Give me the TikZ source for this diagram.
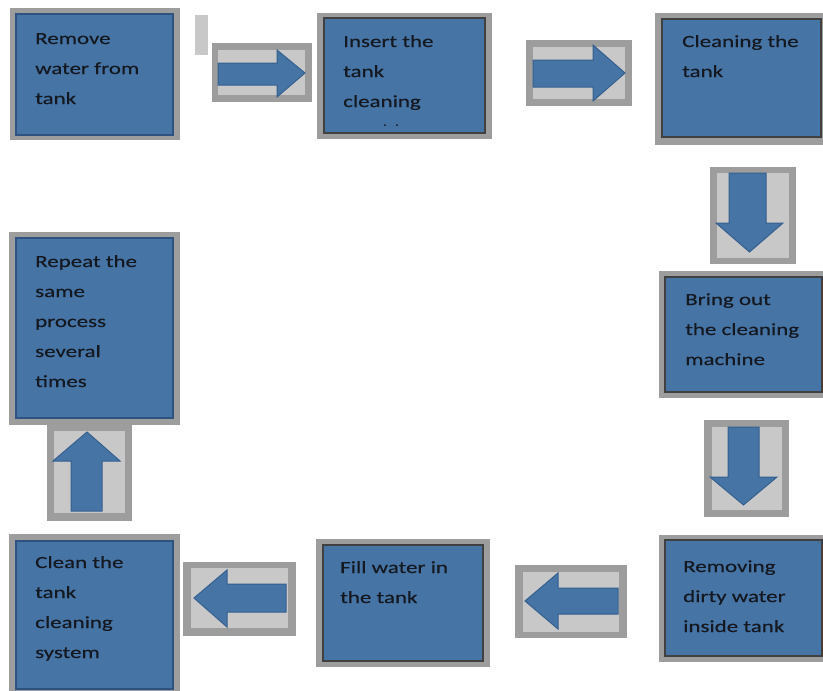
\documentclass[tikz,border=0pt]{standalone}
\usepackage{fontspec}
\setmainfont{Carlito}[FakeStretch=1.35,FakeBold=0.4,AutoFakeBold=0.4]
\definecolor{boxblue}{HTML}{4674A5}
\definecolor{framegray}{HTML}{9D9D9D}
\definecolor{lightgray2}{HTML}{C8C8C8}
\definecolor{darkrim}{HTML}{404040}
\definecolor{bluerim}{HTML}{2E5380}
\definecolor{arrrim}{HTML}{35608F}
\definecolor{txtc}{HTML}{141820}
\tikzset{
  frame/.style={fill=framegray, draw=none},
  inbox/.style={fill=boxblue, draw=darkrim, line width=2.5pt},
  inboxb/.style={fill=boxblue, draw=bluerim, line width=2pt},
  arrbg/.style={fill=lightgray2, draw=none},
  blockarrow/.style={fill=boxblue, draw=arrrim, line width=1pt, line join=miter},
  txt/.style={anchor=base west, inner sep=0pt, text=txtc, font=\fontsize{17}{30}\selectfont\bfseries}
}
\newcommand{\lines}[1]{\begin{tabular}[t]{@{}l@{}}#1\end{tabular}}
\begin{document}
\begin{tikzpicture}[x=1pt,y=-1pt]
\useasboundingbox (0,0) rectangle (823,691);
\fill[white] (0,0) rectangle (823,691);
\clip (0,0) rectangle (823,691);

% ---- process boxes ----
% B1
\fill[frame] (10,8) rectangle (180,140);
\draw[inboxb] (16,14) rectangle (173,135);
\node[txt] (t1) at (35,44) {\lines{Remove\\water from\\tank}};
% B2
\fill[frame] (317,13) rectangle (492,139);
\draw[inbox] (324,18) rectangle (485,133);
\node[txt] (t2) at (343,47) {\lines{Insert the\\tank\\cleaning}};
\fill[txtc] (385,125) circle (1pt);
\fill[txtc] (397,125) circle (1pt);
% B3
\fill[frame] (655,13) rectangle (830,145);
\draw[inbox] (662,19) rectangle (821,137);
\node[txt] (t3) at (682,47) {\lines{Cleaning the\\tank}};
% B4
\fill[frame] (659,271) rectangle (830,398);
\draw[inbox] (665,277) rectangle (822,392);
\node[txt] (t4) at (685,305) {\lines{Bring out\\the cleaning\\machine}};
% B5
\fill[frame] (659,535) rectangle (830,662);
\draw[inbox] (665,540) rectangle (822,656);
\node[txt] (t5) at (683,572) {\lines{Removing\\dirty water\\inside tank}};
% B6
\fill[frame] (316,539) rectangle (490,667);
\draw[inbox] (323,545) rectangle (483,661);
\node[txt] (t6) at (340,573) {\lines{Fill water in\\the tank}};
% B7
\fill[frame] (9,534) rectangle (180,700);
\draw[inboxb] (16,541) rectangle (173,689);
\node[txt] (t7) at (35,568) {\lines{Clean the\\tank\\cleaning\\system}};
% B8
\fill[frame] (9,232) rectangle (180,425);
\draw[inboxb] (16,238) rectangle (173,418);
\node[txt] (t8) at (35,267) {\lines{Repeat the\\same\\process\\several\\times}};

% ---- sliver ----
\fill[lightgray2] (195,15) rectangle (208,55);

% ---- arrow boxes ----
% A1 right
\fill[frame] (212,43) rectangle (312,102);
\fill[arrbg] (218,50) rectangle (305,95);
\draw[blockarrow] (218,63) -- (277,63) -- (277,50) -- (305,73) -- (277,97) -- (277,85) -- (218,85) -- cycle;
% A2 right
\fill[frame] (526,40) rectangle (632,106);
\fill[arrbg] (533,47) rectangle (625,99);
\draw[blockarrow] (533,60) -- (593,60) -- (593,45) -- (625,73) -- (593,101) -- (593,87) -- (533,87) -- cycle;
% A3 down
\fill[frame] (710,167) rectangle (796,264);
\fill[arrbg] (717,173) rectangle (789,258);
\draw[blockarrow] (729,173) -- (766,173) -- (766,223) -- (783,223) -- (749.5,252) -- (716,223) -- (729,223) -- cycle;
% A4 down
\fill[frame] (704,420) rectangle (789,517);
\fill[arrbg] (712,427) rectangle (782,510);
\draw[blockarrow] (728,427) -- (759,427) -- (759,477) -- (777,477) -- (743.5,505) -- (710,477) -- (728,477) -- cycle;
% A5 left
\fill[frame] (515,565) rectangle (627,638);
\fill[arrbg] (523,572) rectangle (619,632);
\draw[blockarrow] (618,588) -- (558,588) -- (558,573) -- (525,601) -- (558,629) -- (558,614) -- (618,614) -- cycle;
% A6 left
\fill[frame] (183,562) rectangle (296,636);
\fill[arrbg] (191,568) rectangle (288,628);
\draw[blockarrow] (286,584) -- (227,584) -- (227,570) -- (194,598) -- (227,627) -- (227,612) -- (286,612) -- cycle;
% A7 up
\fill[frame] (47,425) rectangle (132,521);
\fill[arrbg] (54,431) rectangle (125,513);
\draw[blockarrow] (71,511) -- (71,461) -- (53,461) -- (87,432) -- (120,461) -- (102,461) -- (102,511) -- cycle;
\end{tikzpicture}
\end{document}
